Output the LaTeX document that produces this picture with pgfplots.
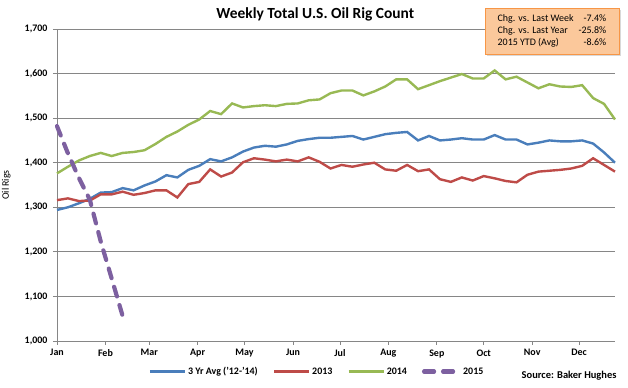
\documentclass[border=0pt]{standalone}
\usepackage{fontspec}
\setmainfont{Carlito}
\usepackage{pgfplots}
\pgfplotsset{compat=1.18}
\usepackage{pgfplotstable}
\usetikzlibrary{shadows}
\definecolor{cblue}{RGB}{74,126,187}
\definecolor{cred}{RGB}{190,75,72}
\definecolor{cgreen}{RGB}{152,185,84}
\definecolor{cpurple}{RGB}{125,96,160}
\definecolor{cgrid}{RGB}{134,134,134}
\definecolor{boxfill}{RGB}{251,200,155}
\definecolor{boxdraw}{RGB}{247,150,70}

\pgfplotstableread{
d avg y13 y14
0 1294 1316 1376
7 1300 1320 1391
14 1309 1314 1405
21 1319 1315 1415
28 1333 1329 1422
35 1334 1329 1415
42 1343 1335 1422
49 1338 1328 1424
56 1349 1332 1428
63 1358 1338 1442
70 1372 1338 1458
77 1367 1322 1470
84 1384 1352 1485
91 1393 1357 1497
98 1408 1385 1516
105 1403 1369 1509
112 1412 1378 1533
119 1425 1401 1524
126 1434 1410 1527
133 1438 1407 1529
140 1436 1403 1527
147 1441 1407 1532
154 1449 1403 1533
161 1453 1412 1540
168 1456 1402 1542
175 1456 1387 1556
182 1458 1395 1562
189 1460 1391 1562
196 1452 1396 1551
203 1458 1400 1560
210 1464 1385 1571
217 1467 1382 1587
224 1469 1395 1587
231 1450 1381 1565
238 1460 1385 1574
245 1450 1363 1583
252 1452 1357 1591
259 1455 1367 1599
266 1452 1360 1589
273 1452 1370 1589
280 1462 1365 1607
287 1452 1359 1587
294 1452 1356 1593
301 1441 1373 1580
308 1445 1380 1567
315 1450 1382 1576
322 1448 1384 1571
329 1448 1387 1570
336 1450 1393 1574
343 1443 1410 1545
350 1423 1395 1532
357 1400 1380 1497
}\rigs

\pgfplotstableread{
d y15
0 1482
7 1421
14 1366
21 1317
28 1223
35 1140
42 1056
}\rigsfifteen

\begin{document}
\begin{tikzpicture}
\path[use as bounding box] (0,0) rectangle (628bp,388bp);
\begin{axis}[
  at={(57bp,47bp)}, anchor=south west,
  scale only axis, width=558bp, height=312bp,
  xmin=0, xmax=357, ymin=1000, ymax=1700,
  axis lines=left,
  axis line style={cgrid, line width=0.8pt, -},
  xtick={0,31,59,90,120,151,181,212,243,273,304,334},
  xticklabels={Jan,Feb,Mar,Apr,May,Jun,Jul,Aug,Sep,Oct,Nov,Dec},
  ytick={1000,1100,...,1700},
  ymajorgrids, grid style={cgrid, line width=0.8pt},
  tick align=outside, major tick length=4bp,
  tick style={cgrid, line width=0.8pt},
  /pgf/number format/.cd, 1000 sep={,}, assume math mode=true,
  /pgfplots/.cd,
  yticklabel style={font=\bfseries\fontsize{10}{11}\selectfont, xshift=-2bp},
  xticklabel style={font=\bfseries\fontsize{10}{11}\selectfont, yshift=-1bp},
  ylabel={Oil Rigs},
  ylabel style={font=\fontsize{10}{11}\selectfont, at={(axis description cs:-0.077,0.5)}, anchor=south},
  title={Weekly Total U.S. Oil Rig Count},
  title style={font=\bfseries\fontsize{15.5}{17}\selectfont, at={(0.463,1)}, yshift=-2bp},
  legend columns=4,
  legend style={draw=none, fill=none, at={(0.466,-0.098)}, anchor=center,
    font=\bfseries\fontsize{10}{11}\selectfont,
    /tikz/every even column/.append style={column sep=13bp}},
  legend image code/.code={\draw[#1] (0bp,0bp) -- (35bp,0bp);},
  clip=false,
]
\addplot[cblue, line width=2.4pt] table[x=d, y=avg] {\rigs};
\addlegendentry{3 Yr Avg ('12-'14)}
\addplot[cred, line width=2.4pt] table[x=d, y=y13] {\rigs};
\addlegendentry{2013}
\addplot[cgreen, line width=2.4pt] table[x=d, y=y14] {\rigs};
\addlegendentry{2014}
\addplot[cpurple, line width=4.2pt, line cap=round, dash pattern=on 10bp off 9bp] table[x=d, y=y15] {\rigsfifteen};
\addlegendentry{2015}
\end{axis}
\node[font=\bfseries\fontsize{10.5}{12}\selectfont, anchor=east] at (620bp,12bp) {Source: Baker Hughes};
\node[draw=boxdraw, fill=boxfill, line width=0.8pt, drop shadow={opacity=0.3},
  minimum width=134bp, minimum height=46bp, inner sep=2bp,
  font=\fontsize{10}{12.5}\selectfont] at (552bp,357bp) {%
  \begin{tabular}{@{}l@{\hspace{5pt}}r@{}}
  Chg. vs. Last Week & -7.4\% \\
  Chg. vs. Last Year & -25.8\% \\
  2015 YTD (Avg) & -8.6\%
  \end{tabular}};
\end{tikzpicture}
\end{document}
